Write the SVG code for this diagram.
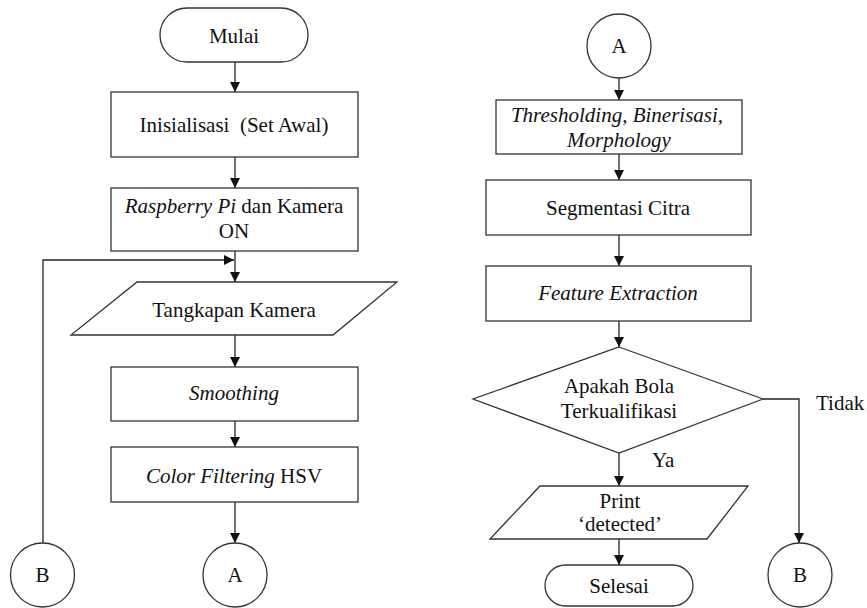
<svg xmlns="http://www.w3.org/2000/svg" width="867" height="608" viewBox="0 0 867 608" font-family="'Liberation Serif', 'Times New Roman', serif">
<defs>
<marker id="ah" markerWidth="10" markerHeight="10" refX="10" refY="5" orient="auto" markerUnits="userSpaceOnUse">
<path d="M0,0 L10,5 L0,10 Z" fill="#111"/>
</marker>
<style>
.s{fill:#fff;stroke:#333;stroke-width:1.3}
.c{fill:none;stroke:#222;stroke-width:1.3}
text{font-family:'Liberation Serif','Times New Roman',serif;font-size:21px;fill:#111;text-anchor:middle}
.i{font-style:italic}
.l{text-anchor:start}
</style>
</defs>
<rect width="867" height="608" fill="#fff"/>
<g id="connectors">
<line class="c" x1="235" y1="62" x2="235" y2="92" marker-end="url(#ah)"/>
<line class="c" x1="235" y1="157" x2="235" y2="188" marker-end="url(#ah)"/>
<line class="c" x1="235" y1="251" x2="235" y2="282" marker-end="url(#ah)"/>
<polyline class="c" points="43,543 43,260 234,260" marker-end="url(#ah)"/>
<line class="c" x1="235" y1="335" x2="235" y2="367" marker-end="url(#ah)"/>
<line class="c" x1="235" y1="421" x2="235" y2="447" marker-end="url(#ah)"/>
<line class="c" x1="235" y1="502" x2="235" y2="543" marker-end="url(#ah)"/>
<line class="c" x1="619" y1="78" x2="619" y2="100" marker-end="url(#ah)"/>
<line class="c" x1="619" y1="154" x2="619" y2="180" marker-end="url(#ah)"/>
<line class="c" x1="619" y1="235" x2="619" y2="266" marker-end="url(#ah)"/>
<line class="c" x1="619" y1="321" x2="619" y2="347" marker-end="url(#ah)"/>
<line class="c" x1="619" y1="453" x2="619" y2="486" marker-end="url(#ah)"/>
<line class="c" x1="619" y1="539" x2="619" y2="565" marker-end="url(#ah)"/>
<polyline class="c" points="763,399 799,399 799,543" marker-end="url(#ah)"/>
<text class="l" x="652" y="467">Ya</text>
<text class="l" x="816" y="410">Tidak</text>
</g>
<g id="mulai"><rect class="s" x="160" y="8" width="148" height="54" rx="27"/><text x="234" y="43">Mulai</text></g>
<g id="inisialisasi"><rect class="s" x="111" y="92" width="247" height="65"/><text x="234" y="132" xml:space="preserve">Inisialisasi  (Set Awal)</text></g>
<g id="raspberry"><rect class="s" x="111" y="188" width="247" height="63"/><text x="234" y="213"><tspan class="i">Raspberry Pi</tspan> dan Kamera</text><text x="234" y="238">ON</text></g>
<g id="tangkapan"><polygon class="s" points="137,282 397,282 333,335 71,335"/><text x="234" y="317">Tangkapan Kamera</text></g>
<g id="smoothing"><rect class="s" x="111" y="367" width="247" height="54"/><text class="i" x="234" y="400">Smoothing</text></g>
<g id="color"><rect class="s" x="111" y="447" width="247" height="55"/><text x="234" y="483"><tspan class="i">Color Filtering</tspan> HSV</text></g>
<g id="A1"><circle class="s" cx="235" cy="575" r="32"/><text x="235" y="582">A</text></g>
<g id="B1"><circle class="s" cx="42.5" cy="575" r="32"/><text x="42.5" y="582">B</text></g>
<g id="A2"><circle class="s" cx="619" cy="46" r="32"/><text x="619" y="53">A</text></g>
<g id="threshold"><rect class="s" x="496" y="100" width="246" height="54"/><text class="i" x="617" y="122">Thresholding, Binerisasi,</text><text class="i" x="619" y="147">Morphology</text></g>
<g id="segmentasi"><rect class="s" x="486" y="180" width="265" height="55"/><text x="618" y="215">Segmentasi Citra</text></g>
<g id="feature"><rect class="s" x="486" y="266" width="265" height="55"/><text class="i" x="618" y="300">Feature Extraction</text></g>
<g id="decision"><polygon class="s" points="619,347 763,399 619,453 473,399"/><text x="619" y="393">Apakah Bola</text><text x="619" y="418">Terkualifikasi</text></g>
<g id="print"><polygon class="s" points="540,486 748,486 707,539 490,539"/><text x="620" y="508">Print</text><text x="620" y="531">‘detected’</text></g>
<g id="selesai"><rect class="s" x="545" y="565" width="148" height="41" rx="20.5"/><text x="619" y="593">Selesai</text></g>
<g id="B2"><circle class="s" cx="800" cy="575" r="32"/><text x="800" y="582">B</text></g>
</svg>
